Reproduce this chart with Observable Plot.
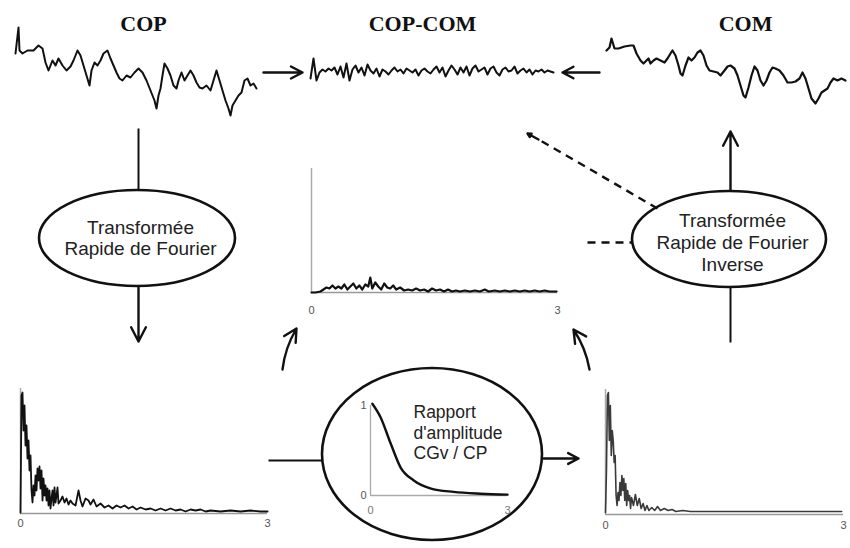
<!DOCTYPE html>
<html>
<head>
<meta charset="utf-8">
<script src="https://cdn.jsdelivr.net/npm/d3@7"></script>
<script src="https://cdn.jsdelivr.net/npm/@observablehq/plot@0.6"></script>
<style>
  html, body { margin: 0; padding: 0; background: #fff; overflow: hidden; }
  #root { position: relative; width: 850px; height: 548px; overflow: hidden; background: #fff; }
  #root > svg { position: absolute; }
</style>
</head>
<body>
<div id="root"></div>
<script>
// ---------- DATA ----------
// COP time series (sample index, displacement, arbitrary units; up = positive)
const copTime  = [1,4,5,8,13,19,24,28,31,34,38,41,44,48,52,56,59,63,66,69,72,75,77,80,83,86,89,93,96,99,102,105,108,112,116,120,124,128,132,136,140,142,144,146,148,150,153,156,159,162,164,167,170,173,176,179,182,185,188,192,196,199,202,205,208,211,214,216,218,221,224,227,230,233,236,239,242];
const copValue = [19,45,22,19,22,22,27,24,10,2,12,7,14,7,2,6,12,22,17,7,-3,-13,2,10,7,12,19,22,14,7,0,-6,-8,-3,-5,0,4,0,-8,-18,-28,-36,-23,-16,-3,9,4,-3,-13,-16,-8,0,-8,-3,2,-3,-10,-15,-16,-13,-18,-8,2,-8,-18,-28,-36,-43,-33,-28,-23,-20,-8,-6,-13,-11,-16];

// COP-COM time series (uniform samples)
const copcomValue = [-6,14,-8,0,3,1,4,2,5,-2, 6,-5,9,-8,3,7,0,5,-3,8, 2,-1,4,-4,3,1,-2,2,5,1, 3,-1,4,2,0,3,-3,2,4,1, -1,3,6,0,5,-4,2,7,3,-2, 5,0,6,-3,4,7,1,3,5,-2, 4,6,0,-3,3,5,1,2,6,-1, 2,4,0,3,-2,2,1,3,0,2, 1,0];

// COM time series
const comTime  = [0,3,5,8,12,18,24,27,30,34,37,40,42,44,47,50,54,58,61,64,66,69,72,74,76,79,82,85,88,91,94,97,100,103,107,111,114,118,121,124,128,131,134,137,139,142,145,148,151,154,157,160,163,166,169,173,177,181,185,189,193,196,199,202,205,209,212,215,218,221,224,227,231,235,239];
const comValue = [22,25,34,24,24,26,27,27,19,12,9,12,14,9,12,14,12,10,14,19,22,17,7,-1,-3,7,15,12,15,20,22,17,7,2,1,0,-3,2,6,7,4,-3,-13,-23,-25,-15,-3,6,2,-8,-13,-8,0,5,4,2,-3,-10,-10,-9,-6,0,-6,-16,-26,-31,-26,-20,-18,-16,-10,-6,-8,-6,-8];

// Spectra: FFT bin index and amplitude (0..3 Hz)
const BINS_PER_HZ = 82.3;
const freqTicks = [0, 3];

const copSpecBin = [0,1,2,3,4,5,6,7,8,9,10,11,12,13,14,15,16,17,18,19,20,21,22,23,24,25,26,27,28,29,30,31,32,33,34,35,36,37,38,40,42,44,46,48,50,52,55,58,60,62,65,68,70,73,76,80,84,88,92,96,100,104,108,112,116,120,125,130,135,140,145,150,155,160,165,170,175,180,185,190,200,210,220,230,240,247];
const copSpecAmp = [1,118,121,83,108,68,88,55,73,43,58,23,11,28,18,38,23,45,33,47,25,43,13,35,18,28,13,25,8,23,5,15,23,8,26,11,18,26,10,13,17,11,15,9,13,10,8,23,13,7,15,13,9,14,7,10,6,8,5,8,6,8,5,7,4,6,4,5,3,5,3,5,3,4,2,4,3,4,2,3,2,3,2,3,2,2];

const diffSpecBin = [0,4,9,12,15,18,21,24,27,30,33,36,39,42,45,48,51,54,57,59,61,64,67,70,73,76,79,82,85,89,93,97,101,105,109,113,117,121,125,129,133,137,141,145,149,154,159,164,169,174,178,184,189,194,199,204,209,214,219,224,229,234,239,246];
const diffSpecAmp = [0,0,1,3,5,4,7,4,6,4,8,3,6,9,4,7,3,8,6,15,4,10,6,3,9,5,4,7,3,5,2,3,2,4,2,3,1,4,2,3,1,3,1,2,1,2,1,2,1,3,1,2,1,2,1,2,1,2,1,2,1,2,1,1];

const comSpecBin = [0,1,2,3,4,5,6,7,8,9,10,11,12,13,14,15,16,17,18,19,20,21,22,23,24,25,26,27,29,31,33,35,37,39,41,43,45,48,51,54,57,61,65,69,73,80,88,115,155,195,245];
const comSpecAmp = [2,44,119,122,74,109,59,84,74,52,59,19,9,22,14,32,19,39,24,36,14,31,9,24,14,19,6,17,9,20,9,16,6,11,4,9,4,7,4,8,4,6,4,5,3,4,3,3,3,3,3];

// Amplitude ratio CGv / CP vs frequency (Hz)
const ratioFreq  = [0.04,0.22,0.44,0.66,0.94,1.31,1.82,2.41,3.0];
const ratioValue = [1.02,0.87,0.58,0.31,0.17,0.08,0.04,0.02,0.01];

// Texts
const titles = ["COP", "COP-COM", "COM"];
const fftLabel = ["Transformée", "Rapide de Fourier"];
const ifftLabel = ["Transformée", "Rapide de Fourier", "Inverse"];
const ratioLabel = ["Rapport", "d'amplitude", "CGv / CP"];

// ---------- LAYOUT ----------
const root = document.getElementById("root");
const INK = "#111";
function place(svg, left, top) {
  svg.style.left = left + "px";
  svg.style.top = top + "px";
  root.appendChild(svg);
  return svg;
}
const baseStyle = {background: "transparent", overflow: "visible"};

// Overlay (diagram connectors, ellipses, labels) in a page-sized frame
const titleData = titles.map((t, i) => ({text: t, x: [143, 422, 745][i], y: 23}));
const fftData = fftLabel.map((t, i) => ({text: t, x: 140, y: 227 + i * 21}));
const ifftData = ifftLabel.map((t, i) => ({text: t, x: 732, y: 220 + i * 22}));
const ratioData = ratioLabel.map((t, i) => ({text: t, x: 413, y: 412 + i * 20.5}));
const plainLinks = [
  {x1: 138, y1: 128, x2: 138, y2: 190},
  {x1: 730, y1: 287, x2: 730, y2: 342},
  {x1: 268, y1: 460, x2: 322, y2: 460}
];
const straightArrows = [
  {x1: 263, y1: 72, x2: 302, y2: 72},
  {x1: 599, y1: 72, x2: 562, y2: 72},
  {x1: 138, y1: 287, x2: 138, y2: 341},
  {x1: 730, y1: 190, x2: 730, y2: 131},
  {x1: 543, y1: 458, x2: 578, y2: 458},
  {x1: 538, y1: 139, x2: 527, y2: 133}
];
const leftCurve = [{x1: 282, y1: 369, x2: 296, y2: 328}];
const rightCurve = [{x1: 589, y1: 369, x2: 573, y2: 329}];
const dashedLinks = [
  {x1: 657, y1: 208, x2: 540, y2: 140},
  {x1: 587, y1: 242, x2: 632, y2: 242}
];
const ellipses = [
  {cx: 137, cy: 238, rx: 98, ry: 48},
  {cx: 729, cy: 239, rx: 97, ry: 48},
  {cx: 432, cy: 454, rx: 110, ry: 86}
];

const arrowStyle = {x1: "x1", y1: "y1", x2: "x2", y2: "y2", stroke: INK, strokeWidth: 2.4, headLength: 10, headAngle: 55};
const ov = Plot.plot({
  width: 850, height: 548, margin: 0,
  x: {domain: [0, 850], range: [0, 850], axis: null},
  y: {domain: [0, 548], range: [0, 548], axis: null},
  style: baseStyle,
  marks: [
    Plot.link(plainLinks, {x1: "x1", y1: "y1", x2: "x2", y2: "y2", stroke: INK, strokeWidth: 2}),
    Plot.arrow(straightArrows, arrowStyle),
    Plot.arrow(leftCurve, {...arrowStyle, bend: 12}),
    Plot.arrow(rightCurve, {...arrowStyle, bend: -12}),
    Plot.link(dashedLinks, {x1: "x1", y1: "y1", x2: "x2", y2: "y2", stroke: INK, strokeWidth: 2.4, strokeDasharray: "8,6"}),
    Plot.text(titleData, {x: "x", y: "y", text: "text", fontFamily: "Liberation Serif", fontWeight: "bold", fontSize: 22, fill: INK}),
    Plot.text(fftData, {x: "x", y: "y", text: "text", fontFamily: "Liberation Sans", fontSize: 19, fill: "#222"}),
    Plot.text(ifftData, {x: "x", y: "y", text: "text", fontFamily: "Liberation Sans", fontSize: 19, fill: "#222"}),
    Plot.text(ratioData, {x: "x", y: "y", text: "text", textAnchor: "start", fontFamily: "Liberation Sans", fontSize: 17.5, fill: "#222"})
  ]
});
{
  const sx = ov.scale("x"), sy = ov.scale("y");
  d3.select(ov).append("g")
    .selectAll("ellipse").data(ellipses).join("ellipse")
    .attr("cx", d => sx.apply(d.cx)).attr("cy", d => sy.apply(d.cy))
    .attr("rx", d => d.rx).attr("ry", d => d.ry)
    .attr("fill", "none").attr("stroke", INK).attr("stroke-width", 2.6);
}
place(ov, 0, 0);

// Time-series panels
function series(time, value, opts) {
  return Plot.plot({
    width: 244, height: 100, margin: 0,
    x: {domain: [0, 244], axis: null},
    y: {domain: [-50, 50], axis: null},
    style: baseStyle,
    marks: [Plot.line(value, {x: (d, i) => time ? time[i] : i * opts.step, y: d => d, stroke: INK, strokeWidth: opts.sw, curve: "linear"})]
  });
}
place(series(copTime, copValue, {sw: 2}), 14, 22);
place(series(null, copcomValue, {sw: 2, step: 3}), 310, 22);
place(series(comTime, comValue, {sw: 2.2}), 606, 22);

// Spectrum panels
function spectrum(bins, amps, w, h, opts) {
  return Plot.plot({
    width: w, height: h, margin: 0,
    x: {domain: [0, 3 * BINS_PER_HZ], axis: null},
    y: {domain: [0, h], axis: null},
    style: baseStyle,
    marks: [
      Plot.ruleX([0], {stroke: "#aaa", strokeWidth: 1.5}),
      Plot.ruleY([0], {stroke: "#999", strokeWidth: 1.5}),
      Plot.axisX(freqTicks.map(f => f * BINS_PER_HZ), {tickSize: 0, tickPadding: opts.pad, tickFormat: d => Math.round(d / BINS_PER_HZ), fontSize: 11, fill: "#555", fontFamily: "Liberation Sans"}),
      Plot.line(amps, {x: (d, i) => bins[i], y: d => d, stroke: opts.stroke, strokeWidth: opts.sw})
    ]
  });
}
place(spectrum(copSpecBin, copSpecAmp, 247, 125, {pad: 6, stroke: INK, sw: 1.8}), 20, 388);
place(spectrum(diffSpecBin, diffSpecAmp, 246, 124, {pad: 14, stroke: INK, sw: 2.2}), 311, 168);
place(spectrum(comSpecBin, comSpecAmp, 238, 125, {pad: 7, stroke: "#3a3a3a", sw: 1.6}), 605, 389);

// Amplitude ratio panel inside the bottom ellipse
const ratio = Plot.plot({
  width: 137, height: 90, margin: 0,
  x: {domain: [0, 3], axis: null},
  y: {domain: [0, 1], axis: null},
  style: baseStyle,
  marks: [
    Plot.ruleX([0], {stroke: "#aaa", strokeWidth: 1.3}),
    Plot.ruleY([0], {stroke: "#aaa", strokeWidth: 1.3}),
    Plot.axisX(freqTicks, {tickSize: 0, tickPadding: 11, tickFormat: d => String(d), fontSize: 11, fill: "#777", fontFamily: "Liberation Sans"}),
    Plot.axisY([0, 1], {tickSize: 0, tickPadding: 4, tickFormat: d => String(d), fontSize: 11, fill: "#555", fontFamily: "Liberation Sans"}),
    Plot.line(ratioValue, {x: (d, i) => ratioFreq[i], y: d => d, stroke: INK, strokeWidth: 2.4, curve: "monotone-x"})
  ]
});
place(ratio, 370, 405);
</script>
</body>
</html>
